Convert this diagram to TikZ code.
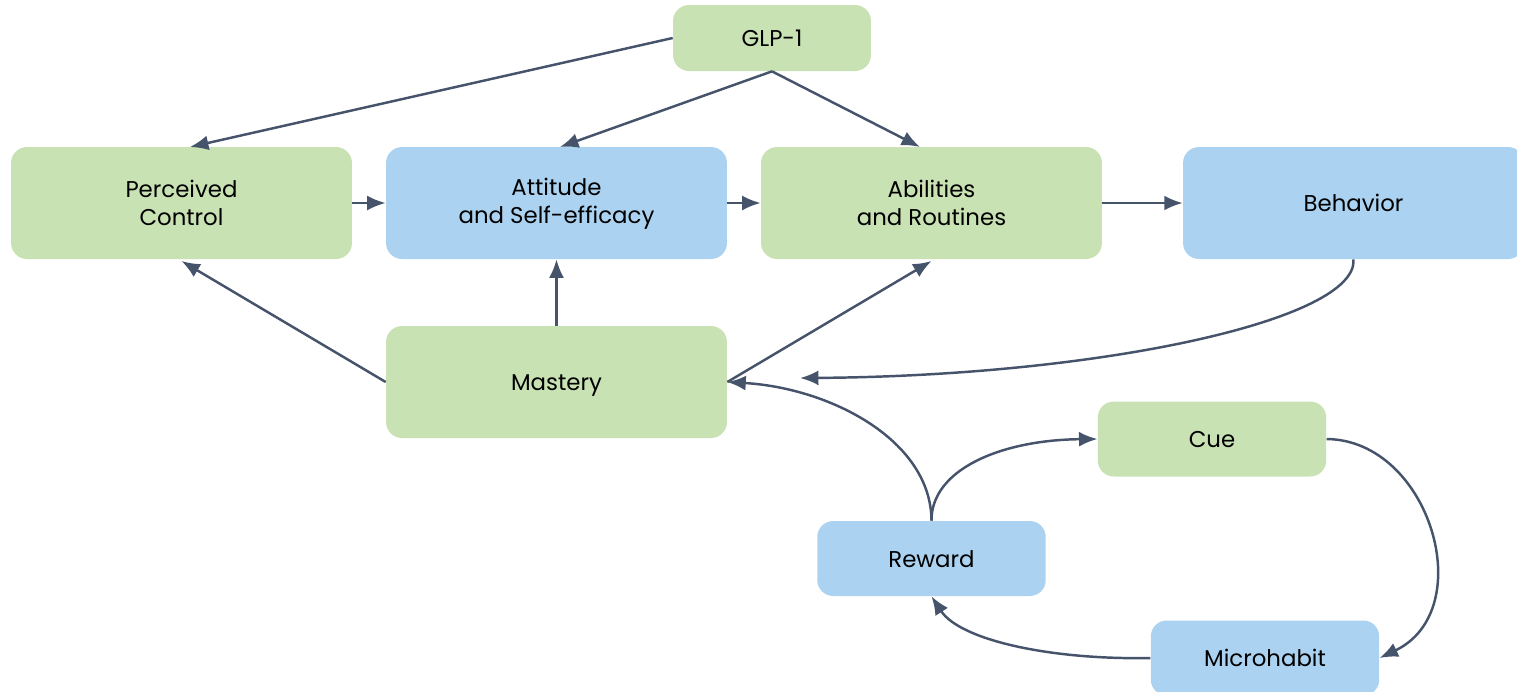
\documentclass[tikz,border=0pt]{standalone}
\usepackage{fontspec}
\setmainfont{Poppins}
\usepackage{tikz}
\usetikzlibrary{shapes,arrows,positioning,calc,arrows.meta}

\definecolor{boxgreen}{RGB}{201,226,179}
\definecolor{boxblue}{RGB}{171,211,241}
\definecolor{linkcol}{RGB}{69,83,107}

\tikzset{
    stage/.style={fill=#1, rounded corners=0.32cm, align=center, inner sep=0pt,
        font=\fontsize{13}{16}\selectfont},
    oneline/.style={text height=12pt, text depth=2pt},
    bigbox/.style={stage=#1, minimum width=6.82cm, minimum height=2.24cm},
    smallbox/.style={stage=#1, oneline, minimum width=4.57cm, minimum height=1.5cm},
    link/.style={draw=linkcol, line width=1.4pt, -{Latex[length=10.5pt,width=8.5pt]}}
}

\begin{document}
\begin{tikzpicture}[x=0.02cm, y=-0.02cm]
    \useasboundingbox (0,0) rectangle (1517,691);

    % top row
    \node[stage=boxgreen, oneline, minimum width=3.96cm, minimum height=1.32cm] (glp) at (772,38) {GLP-1};
    \node[bigbox=boxgreen] (control) at (181.5,203) {Perceived\\Control};
    \node[bigbox=boxblue] (attitude) at (556.5,203) {\strut Attitude\\and Self-efficacy};
    \node[bigbox=boxgreen] (abilities) at (931.5,203) {Abilities\\and Routines};
    \node[bigbox=boxblue, oneline] (behavior) at (1353.5,203) {Behavior};

    % middle and habit loop
    \node[bigbox=boxgreen, oneline] (mastery) at (556.5,382) {Mastery};
    \node[smallbox=boxgreen] (cue) at (1212,439) {Cue};
    \node[smallbox=boxblue] (reward) at (931.5,558.5) {Reward};
    \node[smallbox=boxblue] (micro) at (1265,658) {Microhabit};
    \coordinate (fbend) at (800,378);

    \draw[link] (glp.west) -- (190,147);
    \draw[link] (glp.south) -- (560,147);
    \draw[link] (glp.south) -- (920,147);

    \draw[link] (control) -- (attitude);
    \draw[link] (attitude) -- (abilities);
    \draw[link] (abilities) -- (behavior);

    \draw[link] (mastery.west) -- (181.5,261);
    \draw[link] (mastery.north) -- (attitude.south);
    \draw[link] (mastery.east) -- (931.5,261);

    \draw[link] (behavior.south) .. controls (1358,320) and (1100,376) .. (fbend);
    \draw[link] (reward.north) .. controls (931,440) and (830,388) .. (mastery.east);
    \draw[link] (reward.north) .. controls (931,470) and (1000,440) .. (cue.west);
    \draw[link] (cue.east) .. controls (1430,440) and (1480,610) .. (micro.east);
    \draw[link] (micro.west) .. controls (1050,660) and (960,640) .. (reward.south);
\end{tikzpicture}
\end{document}
